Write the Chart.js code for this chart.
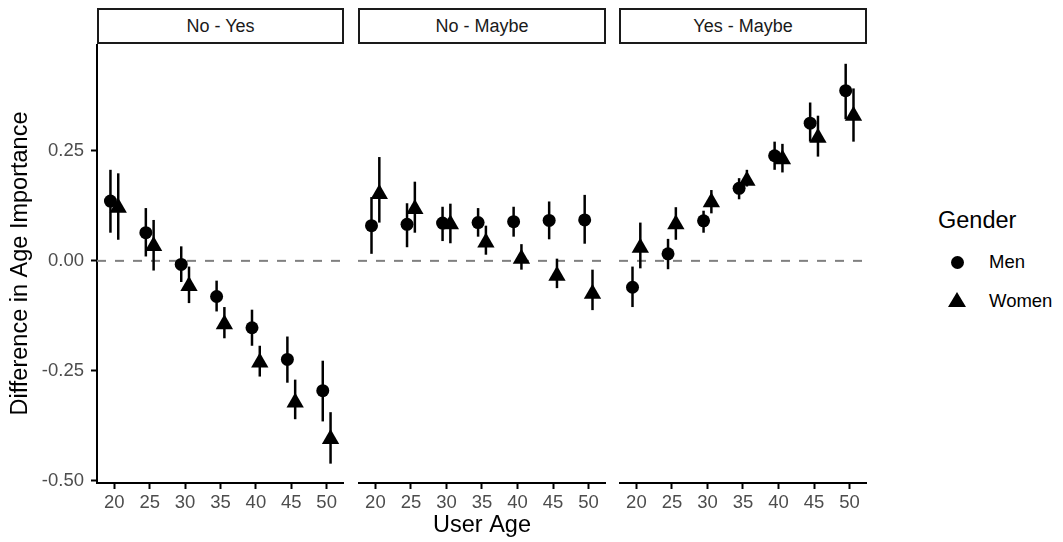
<!DOCTYPE html>
<html>
<head>
<meta charset="utf-8">
<script src="https://cdn.jsdelivr.net/npm/chart.js@4"></script>
<style>
  body { margin: 0; background: #ffffff; font-family: 'Liberation Sans', Arial, sans-serif; }
  #wrap { position: relative; width: 1063px; height: 542px; overflow: hidden; background: #fff; }
  .panel { position: absolute; top: 44px; height: 498px; }
  .strip { position: absolute; top: 8px; height: 36px; box-sizing: border-box; border: 2px solid #1a1a1a; color: #1a1a1a; font-size: 18px; line-height: 32px; text-align: center; background: #fff; }
  .leg { position: absolute; color: #000; }
  .dot { position: absolute; width: 13px; height: 13px; border-radius: 50%; background: #000; }
  .tri { position: absolute; width: 0; height: 0; border-left: 9px solid transparent; border-right: 9px solid transparent; border-bottom: 15px solid #000; }
</style>
</head>
<body>
<div id="wrap">
  <div class="strip" style="left: 97px; width: 247px;">No - Yes</div>
  <div class="strip" style="left: 358px; width: 248px;">No - Maybe</div>
  <div class="strip" style="left: 619px; width: 248px;">Yes - Maybe</div>

  <div class="panel" style="left: 0px; width: 344px;"><canvas id="p1"></canvas></div>
  <div class="panel" style="left: 358px; width: 248px;"><canvas id="p2"></canvas></div>
  <div class="panel" style="left: 619px; width: 248px;"><canvas id="p3"></canvas></div>

  <div class="leg" style="left: 938px; top: 207px; font-size: 23.5px;">Gender</div>
  <div class="dot" style="left: 951px; top: 256px;"></div>
  <div class="leg" style="left: 989px; top: 251px; font-size: 18.5px;">Men</div>
  <div class="tri" style="left: 948px; top: 292px;"></div>
  <div class="leg" style="left: 989px; top: 290px; font-size: 18.5px;">Women</div>
</div>
<script>
// x categories (user age) and y ticks
const ages = [20, 25, 30, 35, 40, 45, 50];
const yTicks = [-0.5, -0.25, 0, 0.25];

// No - Yes
const noYesMen      = [0.136, 0.064, -0.008, -0.081, -0.152, -0.224, -0.295];
const noYesMenLo    = [0.064, 0.010, -0.048, -0.115, -0.193, -0.277, -0.365];
const noYesMenHi    = [0.207, 0.120, 0.033, -0.045, -0.111, -0.172, -0.227];
const noYesWomen    = [0.121, 0.034, -0.057, -0.144, -0.231, -0.322, -0.405];
const noYesWomenLo  = [0.048, -0.022, -0.096, -0.176, -0.263, -0.360, -0.461];
const noYesWomenHi  = [0.199, 0.093, -0.013, -0.105, -0.193, -0.270, -0.344];

// No - Maybe
const noMaybeMen     = [0.080, 0.083, 0.086, 0.087, 0.089, 0.092, 0.093];
const noMaybeMenLo   = [0.016, 0.031, 0.045, 0.055, 0.055, 0.049, 0.039];
const noMaybeMenHi   = [0.145, 0.131, 0.123, 0.120, 0.123, 0.135, 0.150];
const noMaybeWomen   = [0.152, 0.118, 0.083, 0.042, 0.005, -0.034, -0.075];
const noMaybeWomenLo = [0.087, 0.064, 0.040, 0.014, -0.020, -0.062, -0.112];
const noMaybeWomenHi = [0.236, 0.180, 0.130, 0.080, 0.038, 0.005, -0.020];

// Yes - Maybe
const yesMaybeMen     = [-0.060, 0.016, 0.091, 0.165, 0.239, 0.313, 0.387];
const yesMaybeMenLo   = [-0.105, -0.019, 0.064, 0.140, 0.207, 0.271, 0.322];
const yesMaybeMenHi   = [-0.013, 0.050, 0.114, 0.188, 0.271, 0.360, 0.448];
const yesMaybeWomen   = [0.030, 0.083, 0.133, 0.182, 0.231, 0.280, 0.330];
const yesMaybeWomenLo = [-0.017, 0.048, 0.108, 0.169, 0.201, 0.237, 0.271];
const yesMaybeWomenHi = [0.087, 0.122, 0.161, 0.207, 0.266, 0.330, 0.392];

const FONT = "'Liberation Sans', Arial, sans-serif";
const DODGE = 0.55;

// dashed zero line + vertical error bars, drawn under the points
const rangePlugin = {
  id: 'ranges',
  beforeDatasetsDraw(chart) {
    const { ctx, chartArea, scales } = chart;
    const y0 = scales.y.getPixelForValue(0);
    ctx.save();
    ctx.beginPath();
    ctx.rect(chartArea.left, chartArea.top, chartArea.right - chartArea.left, chartArea.bottom - chartArea.top);
    ctx.clip();
    ctx.strokeStyle = '#808080';
    ctx.lineWidth = 2;
    ctx.setLineDash([9, 9]);
    ctx.beginPath();
    ctx.moveTo(chartArea.left, y0);
    ctx.lineTo(chartArea.right, y0);
    ctx.stroke();
    ctx.setLineDash([]);
    ctx.strokeStyle = '#000';
    ctx.lineWidth = 2.5;
    chart.data.datasets.forEach(ds => {
      ds.data.forEach((p, i) => {
        const x = scales.x.getPixelForValue(p.x);
        ctx.beginPath();
        ctx.moveTo(x, scales.y.getPixelForValue(ds.lo[i]));
        ctx.lineTo(x, scales.y.getPixelForValue(ds.hi[i]));
        ctx.stroke();
      });
    });
    ctx.restore();
  }
};

// no label overflow padding: panels must line up exactly
const noPad = s => { s.paddingTop = 0; s.paddingBottom = 0; s.paddingLeft = 0; s.paddingRight = 0; };

const makeSeries = (label, vals, lo, hi, offset, style, radius) => ({
  label,
  data: ages.map((a, i) => ({ x: a + offset, y: vals[i] })),
  lo, hi,
  pointStyle: style,
  pointRadius: radius,
  pointHoverRadius: radius,
  backgroundColor: '#000',
  borderColor: '#000',
  borderWidth: 0
});

const buildPanel = (id, men, menLo, menHi, women, womenLo, womenHi, showY, xTitle) => {
  new Chart(document.getElementById(id), {
    type: 'scatter',
    data: {
      datasets: [
        makeSeries('Men', men, menLo, menHi, -DODGE, 'circle', 6.5),
        makeSeries('Women', women, womenLo, womenHi, DODGE, 'triangle', 10)
      ]
    },
    options: {
      responsive: true,
      maintainAspectRatio: false,
      animation: false,
      layout: { padding: 0, autoPadding: false },
      plugins: { legend: { display: false }, tooltip: { enabled: false } },
      scales: {
        x: {
          type: 'linear',
          min: 17.55,
          max: 52.45,
          afterBuildTicks: s => { s.ticks = ages.map(v => ({ value: v })); },
          afterFit: s => { s.height = 59; noPad(s); },
          ticks: { color: '#4d4d4d', font: { size: 18.5, family: FONT }, padding: 3, maxRotation: 0, autoSkip: false },
          grid: { drawOnChartArea: false, tickLength: 6, tickColor: '#000', tickWidth: 2 },
          border: { display: true, color: '#000', width: 2 },
          title: { display: !!xTitle, text: xTitle || '', color: '#000', font: { size: 23.5, family: FONT }, padding: { top: 0, bottom: 2 } }
        },
        y: {
          display: showY,
          min: -0.505,
          max: 0.493,
          afterBuildTicks: s => { s.ticks = yTicks.map(v => ({ value: v })); },
          afterFit: s => { s.width = showY ? 97 : 0; noPad(s); },
          ticks: { color: '#4d4d4d', font: { size: 18.5, family: FONT }, padding: 7, callback: v => v.toFixed(2) },
          grid: { drawOnChartArea: false, tickLength: 6, tickColor: '#000', tickWidth: 2 },
          border: { display: true, color: '#000', width: 2 },
          title: { display: true, text: 'Difference in Age Importance', color: '#000', font: { size: 23.5, family: FONT }, padding: { top: 6, bottom: 0 } }
        }
      }
    },
    plugins: [rangePlugin]
  });
};

buildPanel('p1', noYesMen, noYesMenLo, noYesMenHi, noYesWomen, noYesWomenLo, noYesWomenHi, true, null);
buildPanel('p2', noMaybeMen, noMaybeMenLo, noMaybeMenHi, noMaybeWomen, noMaybeWomenLo, noMaybeWomenHi, false, 'User Age');
buildPanel('p3', yesMaybeMen, yesMaybeMenLo, yesMaybeMenHi, yesMaybeWomen, yesMaybeWomenLo, yesMaybeWomenHi, false, null);
</script>
</body>
</html>
